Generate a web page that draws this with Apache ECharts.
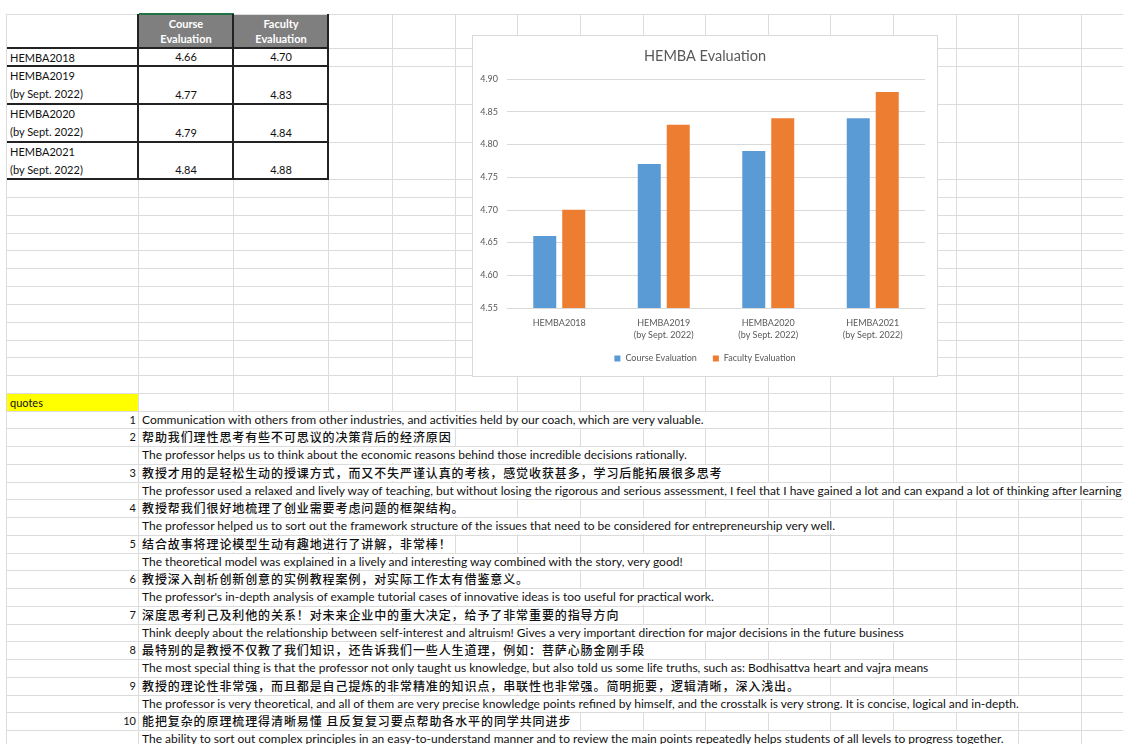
<!DOCTYPE html>
<html>
<head>
<meta charset="utf-8">
<title>HEMBA Evaluation</title>
<script src="https://cdn.jsdelivr.net/npm/echarts@6/dist/echarts.min.js"></script>
<style>
    body {
        margin: 0;
        width: 1123px;
        height: 744px;
        overflow: hidden;
        background: #fff;
        position: relative;
        font-family: Lato, "Noto Sans CJK SC", sans-serif;
        font-size: 11px;
        color: #111;
    }
    .hl { position: absolute; height: 1px; background: #dcdcdc; }
    .vl { position: absolute; width: 1px; background: #dcdcdc; }
    .bk { position: absolute; background: #222; }
    .cell { position: absolute; line-height: 18px; white-space: nowrap; }
    .head {
        position: absolute;
        background: #7f7f7f;
        color: #fff;
        font-weight: bold;
        text-align: center;
        line-height: 15px;
        padding-top: 1px;
        box-sizing: border-box;
    }
    .txt { position: absolute; background: #fff; white-space: nowrap; padding: 0 3px; font-size: 12px; }
    .zh { font-family: "Noto Sans CJK SC", sans-serif; font-size: 12px; letter-spacing: 0.9px; font-weight: 500; }
    #chart {
        position: absolute;
        left: 472px;
        top: 35px;
        width: 466px;
        height: 342px;
        background: #fff;
        border: 1px solid #d9d9d9;
        box-sizing: border-box;
    }
</style>
</head>
<body>
<div id="sheet"></div>
<div id="chart"></div>
<script>
    // chart data
    const categories = ['HEMBA2018', 'HEMBA2019\n(by Sept. 2022)', 'HEMBA2020\n(by Sept. 2022)', 'HEMBA2021\n(by Sept. 2022)'];
    const courseEval = [4.66, 4.77, 4.79, 4.84];
    const facultyEval = [4.70, 4.83, 4.84, 4.88];
    const yMin = 4.55;
    const yMax = 4.90;
    const yStep = 0.05;

    // table row labels
    const rowLabels = [['HEMBA2018'], ['HEMBA2019', '(by Sept. 2022)'], ['HEMBA2020', '(by Sept. 2022)'], ['HEMBA2021', '(by Sept. 2022)']];
    const headers = [['Course', 'Evaluation'], ['Faculty', 'Evaluation']];

    // quotes
    const quoteZh = [
        null,
        '帮助我们理性思考有些不可思议的决策背后的经济原因',
        '教授才用的是轻松生动的授课方式，而又不失严谨认真的考核，感觉收获甚多，学习后能拓展很多思考',
        '教授帮我们很好地梳理了创业需要考虑问题的框架结构。',
        '结合故事将理论模型生动有趣地进行了讲解，非常棒！',
        '教授深入剖析创新创意的实例教程案例，对实际工作太有借鉴意义。',
        '深度思考利己及利他的关系！对未来企业中的重大决定，给予了非常重要的指导方向',
        '最特别的是教授不仅教了我们知识，还告诉我们一些人生道理，例如：菩萨心肠金刚手段',
        '教授的理论性非常强，而且都是自己提炼的非常精准的知识点，串联性也非常强。简明扼要，逻辑清晰，深入浅出。',
        '能把复杂的原理梳理得清晰易懂 且反复复习要点帮助各水平的同学共同进步'
    ];
    const quoteEn = [
        'Communication with others from other industries, and activities held by our coach, which are very valuable.',
        'The professor helps us to think about the economic reasons behind those incredible decisions rationally.',
        'The professor used a relaxed and lively way of teaching, but without losing the rigorous and serious assessment, I feel that I have gained a lot and can expand a lot of thinking after learning',
        'The professor helped us to sort out the framework structure of the issues that need to be considered for entrepreneurship very well.',
        'The theoretical model was explained in a lively and interesting way combined with the story, very good!',
        "The professor's in-depth analysis of example tutorial cases of innovative ideas is too useful for practical work.",
        'Think deeply about the relationship between self-interest and altruism! Gives a very important direction for major decisions in the future business',
        'The most special thing is that the professor not only taught us knowledge, but also told us some life truths, such as: Bodhisattva heart and vajra means',
        'The professor is very theoretical, and all of them are very precise knowledge points refined by himself, and the crosstalk is very strong. It is concise, logical and in-depth.',
        'The ability to sort out complex principles in an easy-to-understand manner and to review the main points repeatedly helps students of all levels to progress together.'
    ];

    const sheet = document.getElementById('sheet');
    function add(cls, style, text) {
        const d = document.createElement('div');
        d.className = cls;
        Object.assign(d.style, style);
        if (text !== undefined) d.textContent = text;
        sheet.appendChild(d);
        return d;
    }

    // grid lines
    const colX = [8, 138, 233, 328];
    for (let x = 392; x < 1123; x += 62.64) colX.push(Math.round(x));
    const rowY = [14, 48, 66, 104, 142, 179];
    const quoteTop = 393;
    const rh = 17.74;
    for (let i = 1; i <= 12; i++) rowY.push(Math.round(179 + (quoteTop - 179) / 12 * i));
    for (let y = quoteTop + rh; y < 744; y += rh) rowY.push(Math.round(y));

    rowY.forEach(y => add('hl', {left: '6px', top: y + 'px', width: '1117px'}));
    add('vl', {left: '6px', top: '14px', height: '730px'});
    colX.slice(1).forEach(x => add('vl', {left: x + 'px', top: '14px', height: '730px'}));

    // table
    add('head', {left: '139px', top: '15px', width: '94px', height: '33px'}).innerHTML = headers[0].join('<br>');
    add('head', {left: '234px', top: '15px', width: '94px', height: '33px'}).innerHTML = headers[1].join('<br>');
    add('bk', {left: '139px', top: '13px', width: '95px', height: '2px', background: '#217346'});
    const tRows = [[48, 66], [66, 104], [104, 142], [142, 179]];
    tRows.forEach((r, i) => {
        add('cell', {left: '7px', top: (r[0] + 1) + 'px', width: '131px', height: (r[1] - r[0] - 1) + 'px', background: '#fff'});
        add('cell', {left: '10px', top: (r[0] + 1) + 'px'}).innerHTML = rowLabels[i].join('<br>');
        add('cell', {left: '139px', top: (r[1] - 18) + 'px', width: '94px', textAlign: 'center'}, courseEval[i].toFixed(2));
        add('cell', {left: '234px', top: (r[1] - 18) + 'px', width: '94px', textAlign: 'center'}, facultyEval[i].toFixed(2));
    });
    [48, 66, 104, 142, 179].forEach(y => add('bk', {left: '7px', top: (y - 1) + 'px', width: '322px', height: '2px'}));
    [138, 233, 328].forEach(x => add('bk', {left: (x - 1) + 'px', top: '14px', width: '2px', height: '166px'}));

    // quotes
    add('cell', {left: '7px', top: (quoteTop + 1) + 'px', width: '131px', height: '17px', lineHeight: '17px', background: '#ffff00', paddingLeft: '3px', boxSizing: 'border-box'}, 'quotes');
    let r = 1;
    quoteEn.forEach((en, i) => {
        const lines = quoteZh[i] ? [[quoteZh[i], 'zh'], [en, '']] : [[en, '']];
        lines.forEach((ln, j) => {
            const top = Math.round(quoteTop + rh * r) + 1;
            if (j === 0) add('cell', {left: '100px', width: '36px', top: top + 'px', lineHeight: '16px', textAlign: 'right'}, String(i + 1));
            add('txt ' + ln[1], {left: '139px', top: top + 'px', height: '16px', lineHeight: '16px'}, ln[0]);
            r++;
        });
    });

    // chart
    const figure = echarts.init(document.getElementById('chart'));
    figure.setOption({
        animation: false,
        textStyle: {fontFamily: 'Lato, sans-serif'},
        title: {
            text: 'HEMBA Evaluation',
            left: 'center',
            top: 8,
            textStyle: {fontSize: 14.5, fontWeight: 'normal', color: '#595959'}
        },
        legend: {
            top: 313,
            left: 'center',
            icon: 'rect',
            itemWidth: 6,
            itemHeight: 6,
            itemGap: 16,
            textStyle: {fontSize: 9, color: '#595959'}
        },
        grid: {left: 34, right: 12, top: 43, bottom: 68},
        xAxis: {
            type: 'category',
            data: categories,
            axisLine: {lineStyle: {color: '#d9d9d9'}},
            axisTick: {show: false},
            axisLabel: {interval: 0, fontSize: 9, lineHeight: 12, margin: 9, color: '#595959'}
        },
        yAxis: {
            type: 'value',
            min: yMin,
            max: yMax,
            interval: yStep,
            axisLine: {show: false},
            axisTick: {show: false},
            axisLabel: {fontSize: 9, margin: 9, color: '#595959', formatter: v => v.toFixed(2)},
            splitLine: {lineStyle: {color: '#d9d9d9'}}
        },
        series: [{
            name: 'Course Evaluation',
            type: 'bar',
            data: courseEval,
            barWidth: 23,
            barGap: '26%',
            itemStyle: {color: '#5b9bd5'}
        }, {
            name: 'Faculty Evaluation',
            type: 'bar',
            data: facultyEval,
            barWidth: 23,
            itemStyle: {color: '#ed7d31'}
        }]
    });
</script>
</body>
</html>
